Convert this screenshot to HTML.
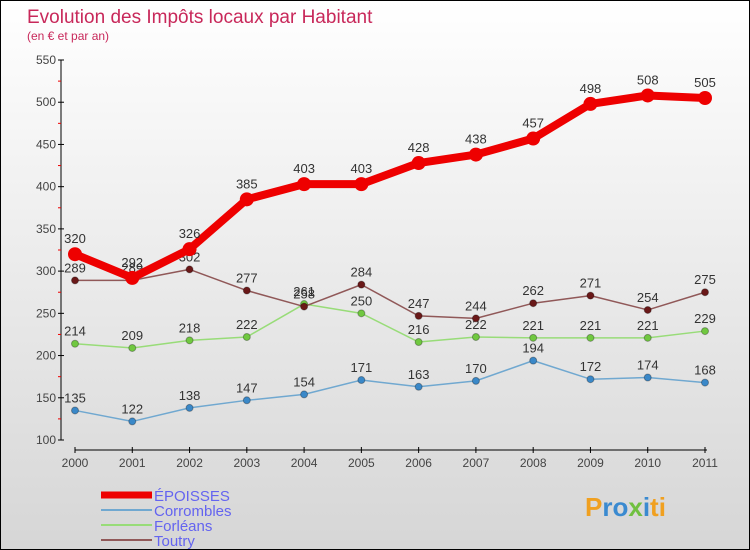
<!DOCTYPE html>
<html><head><meta charset="utf-8"><style>
html,body{margin:0;padding:0}
body{width:750px;height:550px;overflow:hidden;font-family:"Liberation Sans","DejaVu Sans",sans-serif}
#wrap{position:relative;width:748px;height:548px;border:1px solid #000;background:linear-gradient(#ffffff,#d6d6d6)}
</style></head><body>
<div id="wrap">
<svg id="chart" width="748" height="548" style="position:absolute;left:0;top:0">
<text x="26" y="22" font-size="19" fill="#c8285a">Evolution des Impôts locaux par Habitant</text>
<text x="26" y="39" font-size="12" fill="#c8285a">(en € et par an)</text>
<g id="axes"></g><g id="series"></g><g id="legend"></g>
<text x="584" y="515" font-size="26" font-weight="bold"><tspan fill="#f0a020">P</tspan><tspan fill="#3a8ad0">ro</tspan><tspan fill="#70c040">x</tspan><tspan fill="#3a8ad0">i</tspan><tspan fill="#f0a020">ti</tspan></text>
</svg>
</div>
<script>
const years=[2000,2001,2002,2003,2004,2005,2006,2007,2008,2009,2010,2011];
const epoisses=[320,292,326,385,403,403,428,438,457,498,508,505];
const corrombles=[135,122,138,147,154,171,163,170,194,172,174,168];
const forleans=[214,209,218,222,261,250,216,222,221,221,221,229];
const toutry=[289,289,302,277,258,284,247,244,262,271,254,275];
const yTicks=[100,150,200,250,300,350,400,450,500,550];
const seriesNames=["ÉPOISSES","Corrombles","Forléans","Toutry"];
const NS="http://www.w3.org/2000/svg";
const x0=74,x1=704,yBase=439,yTop=59,vMin=100,vMax=550;
function xs(i){return x0+(x1-x0)*i/(years.length-1);}
function ys(v){return yBase-(v-vMin)*(yBase-yTop)/(vMax-vMin);}
function mk(tag,attrs,parent){const e=document.createElementNS(NS,tag);for(const k in attrs)e.setAttribute(k,attrs[k]);parent.appendChild(e);return e;}
const ax=document.getElementById('axes');
let yl=mk('line',{x1:60,y1:yTop,x2:60,y2:yBase,stroke:'#000'},ax);


let xl=mk('line',{x1:x0,y1:449,x2:x1+2,y2:449,stroke:'#000'},ax);


yTicks.forEach((t,i)=>{
  mk('line',{x1:57,y1:ys(t),x2:63,y2:ys(t),stroke:'#000'},ax);
  if(i<yTicks.length-1)mk('line',{x1:57,y1:ys(t+25),x2:60,y2:ys(t+25),stroke:'#e00'},ax);
  const tx=mk('text',{x:55,y:ys(t)+4,'font-size':12,fill:'#444','text-anchor':'end'},ax);
  tx.textContent=t;
  
  
});
years.forEach((y,i)=>{
  mk('line',{x1:xs(i),y1:446,x2:xs(i),y2:452,stroke:'#000'},ax);
  const tx=mk('text',{x:xs(i),y:466,'font-size':12,fill:'#444','text-anchor':'middle'},ax);
  tx.textContent=y;
  
  
});
const sg=document.getElementById('series');
const defs=[
 {d:corrombles,c:'#70a8d0',m:'#3a88c8',w:1.5,r:3.5,n:'corrombles'},
 {d:forleans,c:'#98dc78',m:'#70c840',w:1.5,r:3.5,n:'forleans'},
 {d:toutry,c:'#905858',m:'#6a1818',w:1.5,r:3.5,n:'toutry'},
 {d:epoisses,c:'#ee0000',m:'#ee0000',w:8,r:7,n:'epoisses'}];
defs.forEach(s=>{
  const g=mk('g',{},sg);
  
  
  const p=mk('polyline',{points:s.d.map((v,i)=>xs(i)+','+ys(v)).join(' '),fill:'none',stroke:s.c,'stroke-width':s.w,'stroke-linejoin':'round'},g);
  
  
  s.d.forEach((v,i)=>{
    const c=mk('circle',{cx:xs(i),cy:ys(v),r:s.r,fill:s.m,stroke:s.w>2?'none':'rgba(0,0,0,0.3)'},g);
    
    
    const t=mk('text',{x:xs(i),y:ys(v)-(s.w>2?11:8),'font-size':13,fill:'#333','text-anchor':'middle'},g);
    t.textContent=v;
    
    
  });
});
const lg=document.getElementById('legend');
const lc=['#ee0000','#70a8d0','#98dc78','#905858'],lw=[7,2,2,2];
seriesNames.forEach((n,i)=>{
  const y=494+i*15;
  const g=mk('g',{},lg);
  
  
  mk('line',{x1:100,y1:y,x2:151,y2:y,stroke:lc[i],'stroke-width':lw[i]},g);
  const t=mk('text',{x:153,y:y+6,'font-size':15,fill:'#6464f0'},g);
  t.textContent=n;
});
</script>
</body></html>
